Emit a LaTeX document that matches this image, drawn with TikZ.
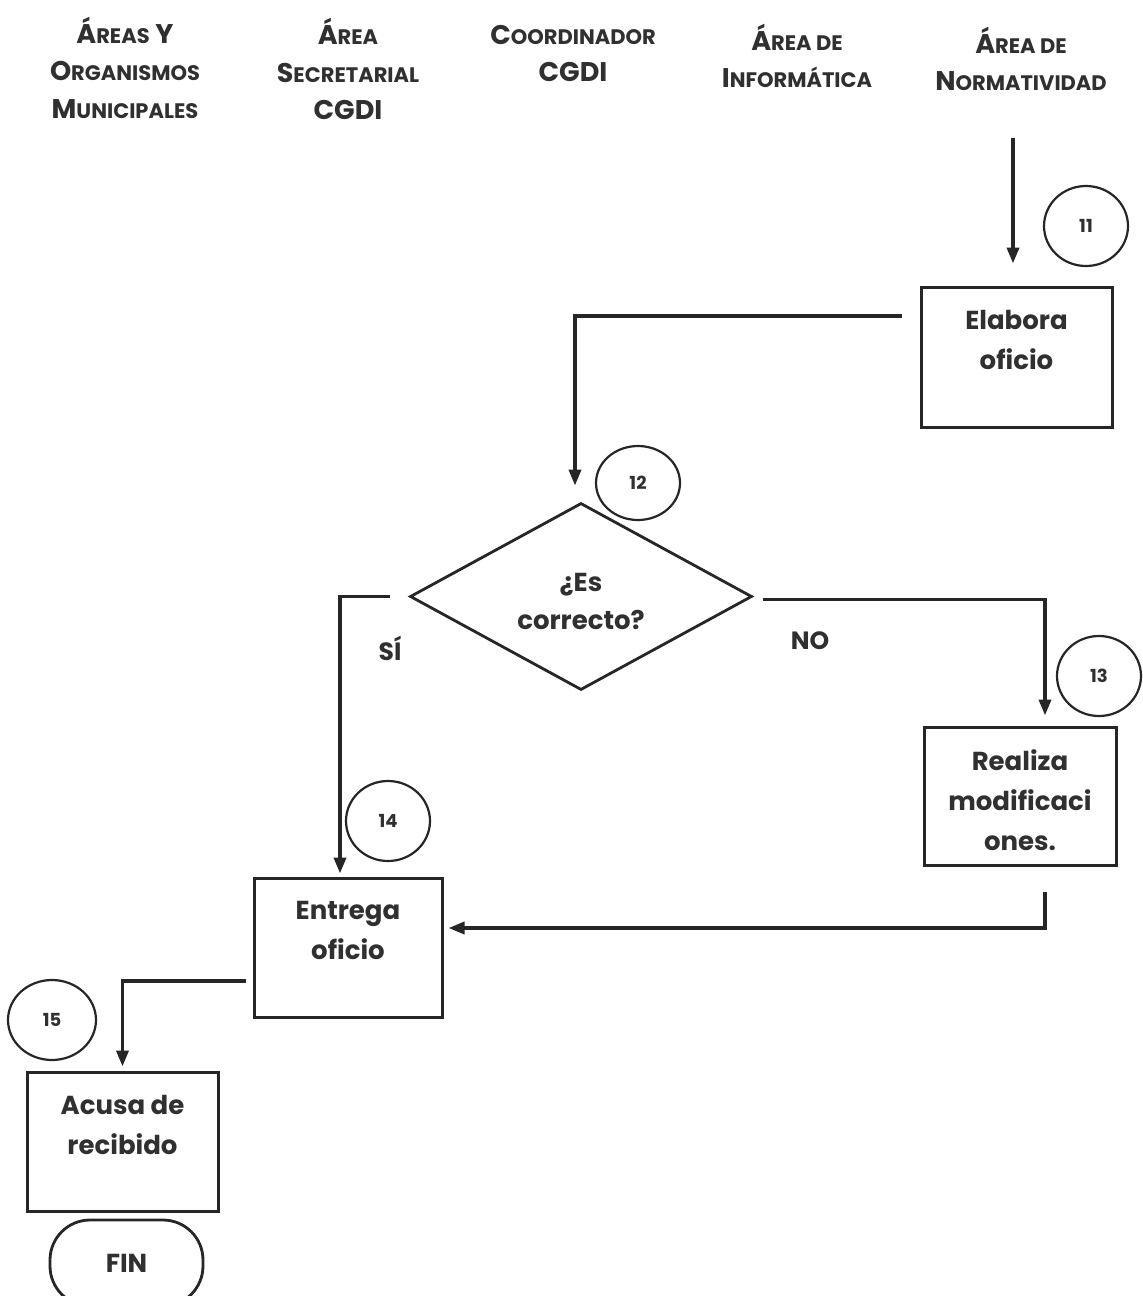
\documentclass[tikz,border=0pt]{standalone}
\usepackage{fontspec}
\setmainfont{Poppins}
\usetikzlibrary{arrows.meta,shapes.geometric}
\definecolor{ink}{HTML}{262626}
\definecolor{txt}{HTML}{303030}
\newcommand\Bc[1]{{\fontsize{13.5}{18.75}\selectfont #1}}
\newcommand\Sc[1]{{\fontsize{10.5}{18.75}\selectfont #1}}
\begin{document}
\begin{tikzpicture}[x=0.5pt,y=-0.5pt,
  hdr/.style={align=center, inner sep=0pt, text=txt, font=\fontsize{13.5}{18.75}\selectfont\bfseries},
  boxtxt/.style={align=center, inner sep=0pt, text=txt, font=\fontsize{13}{20}\selectfont\bfseries},
  procbox/.style={draw=ink, line width=1.5pt, rectangle, inner sep=0pt},
  stepno/.style={draw=ink, line width=1.1pt, ellipse, inner sep=0pt, minimum width=42pt, minimum height=40pt, text=txt, font=\fontsize{9}{10}\selectfont\bfseries},
  lbl/.style={inner sep=0pt, text=txt, font=\fontsize{12.5}{15}\selectfont\bfseries},
  arr/.style={draw=ink, line width=1.8pt, -{Triangle[length=8pt,width=6pt]}},
  ln/.style={draw=ink, line width=1.8pt}
]
\clip (0,0) rectangle (1143,1296);
\fill[white] (0,0) rectangle (1143,1296);

% headers
\node[hdr] (h1) at (125,67.5) {\Bc{Á}\Sc{REAS} \Bc{Y}\\\Bc{O}\Sc{RGANISMOS}\\\Bc{M}\Sc{UNICIPALES}};
\node[hdr] (h2) at (348,69) {\Bc{Á}\Sc{REA}\\\Bc{S}\Sc{ECRETARIAL}\\\Bc{CGDI}};
\node[hdr] (h3) at (573,53.5) {\Bc{C}\Sc{OORDINADOR}\\\Bc{CGDI}};
\node[hdr] (h4) at (797,56) {\Bc{Á}\Sc{REA DE}\\\Bc{I}\Sc{NFORMÁTICA}};
\node[hdr] (h5) at (1021,59) {\Bc{Á}\Sc{REA DE}\\\Bc{N}\Sc{ORMATIVIDAD}};

% process boxes
\node[procbox, minimum width=95.5pt, minimum height=70pt] (el) at (1016.5,357) {};
\node[boxtxt] (elt) at (1016.5,340) {Elabora\\oficio};

\node[procbox, minimum width=96pt, minimum height=69pt] (re) at (1020,796) {};
\node[boxtxt] (ret) at (1020,800) {Realiza\\modificaci\\ones.};

\node[procbox, minimum width=94pt, minimum height=69.5pt] (en) at (348,947.5) {};
\node[boxtxt] (ent) at (348,930) {Entrega\\oficio};

\node[procbox, minimum width=95.5pt, minimum height=69.5pt] (ac) at (122.5,1141.5) {};
\node[boxtxt] (act) at (122.5,1125) {Acusa de\\recibido};

% decision
\node[draw=ink, line width=1.4pt, diamond, aspect=1.83, inner sep=0pt, minimum width=171pt, minimum height=93.5pt] (dia) at (581,596.5) {};
\node[boxtxt, font=\fontsize{13}{19}\selectfont\bfseries] (diat) at (581,601) {¿Es\\correcto?};

% end
\node[draw=ink, line width=1.4pt, rectangle, rounded corners=20pt, minimum width=76.5pt, minimum height=43pt, inner sep=0pt, text=txt, font=\fontsize{13}{15}\selectfont\bfseries] (fin) at (126.5,1263) {FIN};

% step numbers
\node[stepno] (c11) at (1086,226) {11};
\node[stepno, minimum height=37pt] (c12) at (638,483) {12};
\node[stepno] (c13) at (1099,676) {13};
\node[stepno] (c14) at (388,821) {14};
\node[stepno, minimum width=44pt] (c15) at (52,1020) {15};

% labels
\node[lbl] (si) at (390,648) {SÍ};
\node[lbl] (no) at (810,641) {NO};

% connectors
\coordinate (s0) at (1013,138);
\draw[arr, shorten >=11pt] (s0) -- (s0 |- el.north);
\draw[arr, shorten <=9pt, shorten >=8pt] ([yshift=20.5pt]el.west) -| ([xshift=-3pt]dia.north);
\draw[arr, shorten <=9.5pt, shorten >=1.5pt] (dia.west) -| ([xshift=-4pt]en.north);
\draw[arr, shorten <=5pt, shorten >=5pt] ([yshift=-1.5pt]dia.east) -| ([xshift=12.5pt]re.north);
\draw[arr, shorten >=2.5pt] ([xshift=12.5pt,yshift=-12.5pt]re.south) |- ([yshift=9.75pt]en.east);
\draw[arr, shorten <=3.5pt, shorten >=2pt] ([yshift=-16.75pt]en.west) -| (ac.north);
\end{tikzpicture}
\end{document}
